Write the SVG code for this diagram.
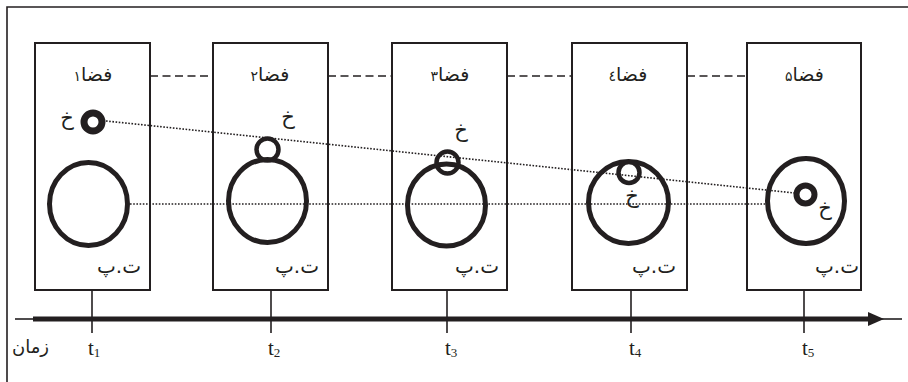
<svg xmlns="http://www.w3.org/2000/svg" width="908" height="382" viewBox="0 0 908 382">
<style>
.box{fill:none;stroke:#231f20;stroke-width:2}
.big{fill:none;stroke:#231f20;stroke-width:5}
.sm{fill:none;stroke:#231f20}
.fa{font-family:"DejaVu Sans",sans-serif;fill:#231f20}
.lbl{font-size:19px;text-anchor:middle}
.dg{font-size:14px}
.tp{font-size:20px;text-anchor:end}
.kh{font-size:21px;text-anchor:middle}
.dash{stroke:#231f20;stroke-width:1.6;stroke-dasharray:8 4.5;fill:none}
.dot{stroke:#231f20;stroke-width:1.6;stroke-dasharray:1.6 1.6;fill:none}
.tick{stroke:#231f20;stroke-width:1.6}
.t{font-family:"Liberation Serif",serif;font-size:21px;fill:#231f20}
</style>
<g id="frame" fill="none" stroke="#231f20" stroke-width="1.6">
<path d="M7 382 V7 H908"/>
</g>
<g id="connectors">
<line class="dash" x1="150" y1="76" x2="213" y2="76"/>
<line class="dash" x1="328" y1="76" x2="392" y2="76"/>
<line class="dash" x1="507" y1="76" x2="572" y2="76"/>
<line class="dash" x1="687" y1="76" x2="747" y2="76"/>
<line class="dot" x1="106" y1="121" x2="795" y2="193"/>
<line class="dot" x1="130" y1="204" x2="766" y2="204"/>
</g>
<g id="box1">
<rect class="box" x="35" y="43" width="115" height="247"/>
<text class="fa lbl" x="93" y="81">فضا<tspan class="dg">۱</tspan></text>
<circle class="sm" cx="93" cy="122" r="9" stroke-width="7"/>
<text class="fa kh" x="67" y="125">خ</text>
<ellipse class="big" cx="88.5" cy="204" rx="39" ry="41.5"/>
<text class="fa tp" x="141" y="273">ت.پ</text>
</g>
<g id="box2">
<rect class="box" x="213" y="43" width="115" height="247"/>
<text class="fa lbl" x="270" y="81">فضا<tspan class="dg">۲</tspan></text>
<ellipse class="big" cx="267.5" cy="201" rx="39" ry="41.5"/>
<circle class="sm" cx="267.5" cy="149.5" r="11" stroke-width="4.5"/>
<text class="fa kh" x="288" y="124">خ</text>
<text class="fa tp" x="319" y="273">ت.پ</text>
</g>
<g id="box3">
<rect class="box" x="392" y="43" width="115" height="247"/>
<text class="fa lbl" x="450" y="81">فضا<tspan class="dg">۳</tspan></text>
<ellipse class="big" cx="446.5" cy="205" rx="39" ry="41"/>
<circle class="sm" cx="447.5" cy="162.5" r="11" stroke-width="4.5"/>
<text class="fa kh" x="461" y="137">خ</text>
<text class="fa tp" x="499" y="273">ت.پ</text>
</g>
<g id="box4">
<rect class="box" x="572" y="43" width="115" height="247"/>
<text class="fa lbl" x="628" y="81">فضا<tspan class="dg">٤</tspan></text>
<ellipse class="big" cx="628.5" cy="202.5" rx="40" ry="41"/>
<circle class="sm" cx="629" cy="172.5" r="10.5" stroke-width="4.5"/>
<text class="fa kh" x="632" y="203">خ</text>
<text class="fa tp" x="676" y="273">ت.پ</text>
</g>
<g id="box5">
<rect class="box" x="747" y="43" width="114" height="247"/>
<text class="fa lbl" x="804.5" y="81">فضا<tspan class="dg">۵</tspan></text>
<ellipse class="big" cx="806" cy="201" rx="38.5" ry="42.5"/>
<circle class="sm" cx="805.5" cy="194.5" r="9" stroke-width="6"/>
<text class="fa kh" x="825" y="215">خ</text>
<text class="fa tp" x="859" y="273">ت.پ</text>
</g>
<g id="axis">
<line x1="15" y1="319" x2="34" y2="319" stroke="#231f20" stroke-width="1.6"/>
<line x1="33" y1="319" x2="870" y2="319" stroke="#231f20" stroke-width="5"/>
<polygon points="868,312 884,319 868,326" fill="#231f20"/>
<line x1="880" y1="319" x2="902" y2="319" stroke="#231f20" stroke-width="1.6"/>
<line class="tick" x1="92" y1="290" x2="92" y2="333"/>
<line class="tick" x1="271" y1="290" x2="271" y2="333"/>
<line class="tick" x1="447" y1="290" x2="447" y2="333"/>
<line class="tick" x1="631" y1="290" x2="631" y2="333"/>
<line class="tick" x1="804" y1="290" x2="804" y2="333"/>
<text class="fa" x="49" y="353" font-size="18" text-anchor="end">زمان</text>
<text class="t" x="88" y="355">t<tspan font-size="13" dy="2">1</tspan></text>
<text class="t" x="268" y="355">t<tspan font-size="13" dy="2">2</tspan></text>
<text class="t" x="445" y="355">t<tspan font-size="13" dy="2">3</tspan></text>
<text class="t" x="629" y="355">t<tspan font-size="13" dy="2">4</tspan></text>
<text class="t" x="802" y="355">t<tspan font-size="13" dy="2">5</tspan></text>
</g>
</svg>
